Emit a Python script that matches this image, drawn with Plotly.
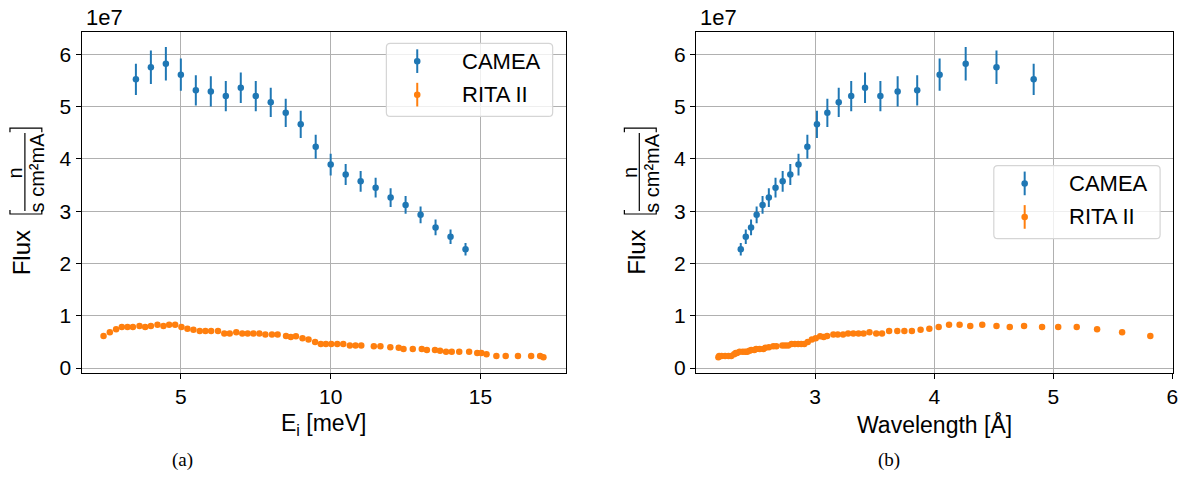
import numpy as np
import plotly.graph_objects as go

W, H = 1191, 503

# ---------------- data (flux in units of 1e7 n/(s cm^2 mA)) ----------------
camea_ei = [3.5, 4.0, 4.5, 5.0, 5.5, 6.0, 6.5, 7.0, 7.5, 8.0, 8.5, 9.0, 9.5,
            10.0, 10.5, 11.0, 11.5, 12.0, 12.5, 13.0, 13.5, 14.0, 14.5]
camea_flux = [5.52, 5.75, 5.82, 5.61, 5.31, 5.29, 5.20, 5.36, 5.20, 5.08, 4.88, 4.66, 4.23,
              3.89, 3.70, 3.57, 3.45, 3.26, 3.12, 2.93, 2.69, 2.51, 2.27]
camea_err = [0.30, 0.32, 0.32, 0.31, 0.29, 0.29, 0.29, 0.29, 0.29, 0.28, 0.27, 0.26, 0.23,
             0.21, 0.20, 0.20, 0.19, 0.18, 0.17, 0.16, 0.15, 0.14, 0.12]

rita_ei = [2.42, 2.63, 2.84, 3.03, 3.22, 3.40, 3.62, 3.81, 4.00, 4.22, 4.42, 4.61, 4.81,
           5.02, 5.22, 5.42, 5.63, 5.82, 6.01, 6.24, 6.45, 6.63, 6.85, 7.05, 7.23, 7.42,
           7.62, 7.82, 8.04, 8.23, 8.51, 8.67, 8.84, 9.06, 9.26, 9.48, 9.67, 9.84, 10.02,
           10.22, 10.42, 10.64, 10.83, 11.02, 11.44, 11.66, 11.99, 12.27, 12.43, 12.74,
           13.04, 13.21, 13.48, 13.65, 13.85, 14.04, 14.29, 14.62, 14.89, 15.03, 15.20,
           15.53, 15.84, 16.25, 16.69, 16.99, 17.10]
rita_flux = [0.615, 0.684, 0.741, 0.785, 0.785, 0.785, 0.804, 0.785, 0.804, 0.829, 0.804,
             0.829, 0.829, 0.785, 0.754, 0.735, 0.709, 0.709, 0.709, 0.709, 0.660, 0.660,
             0.684, 0.660, 0.660, 0.660, 0.660, 0.640, 0.640, 0.640, 0.615, 0.596, 0.610,
             0.571, 0.547, 0.500, 0.458, 0.458, 0.458, 0.458, 0.458, 0.434, 0.434, 0.434,
             0.415, 0.415, 0.396, 0.390, 0.364, 0.364, 0.364, 0.345, 0.345, 0.332, 0.313,
             0.313, 0.313, 0.313, 0.288, 0.288, 0.264, 0.232, 0.232, 0.232, 0.232, 0.232,
             0.207]

x_ticks_a = [5, 10, 15]
x_ticks_b = [3, 4, 5, 6]
y_ticks = [0, 1, 2, 3, 4, 5, 6]

# neutron energy -> wavelength conversion (E[meV] = 81.81 / lambda^2 [A])
camea_wl = list(np.sqrt(81.81 / np.array(camea_ei)))
rita_wl = list(np.sqrt(81.81 / np.array(rita_ei)))

BLUE = "#1f77b4"
ORANGE = "#ff7f0e"
FONT = "Liberation Sans, Arial, sans-serif"


def px(x):
    return x / W


def py(y):
    return 1 - y / H


# axes boxes in pixels
A_L, A_R = 82, 568
B_L, B_R = 699, 1178
TOP, BOT = 32, 378

fig = go.Figure()

for xs, ys, err, color, xa, ya in [
    (camea_ei, camea_flux, camea_err, BLUE, "x", "y"),
    (rita_ei, rita_flux, None, ORANGE, "x", "y"),
    (camea_wl, camea_flux, camea_err, BLUE, "x2", "y2"),
    (rita_wl, rita_flux, None, ORANGE, "x2", "y2"),
]:
    tr = dict(x=xs, y=ys, mode="markers", xaxis=xa, yaxis=ya, showlegend=False,
              marker=dict(color=color, size=6.5, line=dict(width=0)))
    if err is not None:
        tr["error_y"] = dict(type="data", array=err, visible=True, color=color,
                             thickness=2, width=0)
    fig.add_trace(go.Scatter(**tr))

axis_common = dict(showgrid=True, gridcolor="#b0b0b0", gridwidth=1, showline=True,
                   mirror=True, linecolor="black", linewidth=1.3, ticks="outside",
                   ticklen=5, tickwidth=1.3, tickcolor="black", zeroline=False,
                   tickfont=dict(family=FONT, size=21, color="black"))

fig.update_layout(
    width=W, height=H, margin=dict(l=0, r=0, t=0, b=0),
    plot_bgcolor="white", paper_bgcolor="white",
    xaxis=dict(domain=[px(A_L), px(A_R)], range=[1.69, 17.84], tickvals=x_ticks_a,
               anchor="y", **axis_common),
    yaxis=dict(domain=[py(BOT), py(TOP)], range=[-0.089, 6.434], tickvals=y_ticks,
               anchor="x", **axis_common),
    xaxis2=dict(domain=[px(B_L), px(B_R)], range=[2.0, 6.005], tickvals=x_ticks_b,
                anchor="y2", **axis_common),
    yaxis2=dict(domain=[py(BOT), py(TOP)], range=[-0.089, 6.434], tickvals=y_ticks,
                anchor="x2", **axis_common),
)

annotations = []
shapes = []


def text(x, y, s, size, xanchor="center", yanchor="middle", angle=0, family=FONT):
    annotations.append(dict(x=px(x), y=py(y), xref="paper", yref="paper", text=s,
                            showarrow=False, xanchor=xanchor, yanchor=yanchor,
                            textangle=angle, font=dict(family=family, size=size,
                                                       color="black")))


for L, R, xlabel, cap, capx, legend_top in [
    (A_L, A_R, "E<sub>i</sub> [meV]", "(a)", 183, 44),
    (B_L, B_R, "Wavelength [Å]", "(b)", 893, 168),
]:
    # offset text
    text(L + 2, 18, "1e7", 22, xanchor="left")
    # x label
    text((L + R) / 2, 430, xlabel, 23)
    # caption
    text(capx, 466, cap, 19, family="Liberation Serif, serif")
    # y label: Flux [ n / (s cm²mA) ]
    text(L - 60, 256, "Flux", 24, angle=-90)
    text(L - 67, 175, "n", 20, angle=-90)
    text(L - 45, 175, "s cm²mA", 20, angle=-90)
    shapes.append(dict(type="line", xref="paper", yref="paper",
                       x0=px(L - 57), x1=px(L - 57), y0=py(135), y1=py(214),
                       line=dict(color="black", width=1.2)))
    for yb, d in [(217, -4), (130, 4)]:
        shapes.append(dict(type="path", xref="paper", yref="paper",
                           path=f"M {px(L-72)} {py(yb+d)} L {px(L-72)} {py(yb)} "
                                f"L {px(L-40)} {py(yb)} L {px(L-40)} {py(yb+d)}",
                           line=dict(color="black", width=1.2)))
    # legend box
    bx0, bx1 = R - 13 - 167, R - 13
    by0, by1 = legend_top, legend_top + 74
    r = 4
    path = (f"M {px(bx0+r)} {py(by0)} L {px(bx1-r)} {py(by0)} "
            f"Q {px(bx1)} {py(by0)} {px(bx1)} {py(by0+r)} "
            f"L {px(bx1)} {py(by1-r)} Q {px(bx1)} {py(by1)} {px(bx1-r)} {py(by1)} "
            f"L {px(bx0+r)} {py(by1)} Q {px(bx0)} {py(by1)} {px(bx0)} {py(by1-r)} "
            f"L {px(bx0)} {py(by0+r)} Q {px(bx0)} {py(by0)} {px(bx0+r)} {py(by0)} Z")
    shapes.append(dict(type="path", xref="paper", yref="paper", path=path,
                       line=dict(color="#d5d5d5", width=1.2),
                       fillcolor="rgba(255,255,255,0.8)", layer="above"))
    for name, color, dy in [("CAMEA", BLUE, 18), ("RITA II", ORANGE, 52)]:
        cy = legend_top + dy
        mx = bx0 + 31
        shapes.append(dict(type="line", xref="paper", yref="paper",
                           x0=px(mx), x1=px(mx), y0=py(cy - 12), y1=py(cy + 12),
                           line=dict(color=color, width=2), layer="above"))
        shapes.append(dict(type="circle", xref="paper", yref="paper",
                           x0=px(mx - 3.3), x1=px(mx + 3.3), y0=py(cy + 3.3), y1=py(cy - 3.3),
                           line=dict(width=0), fillcolor=color, layer="above"))
        text(bx0 + 74, cy, name, 22, xanchor="left")

fig.update_layout(annotations=annotations, shapes=shapes)
fig.write_html("out.html")
